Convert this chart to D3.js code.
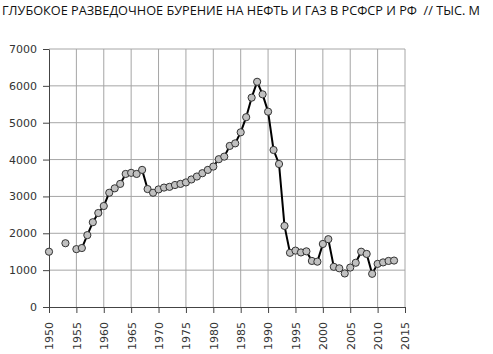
<!DOCTYPE html>
<html>
<head>
<meta charset="utf-8">
<script src="https://cdn.jsdelivr.net/npm/d3@7"></script>
<style>
  body { margin: 0; background: #fff; }
  svg { display: block; }
</style>
</head>
<body>
<svg width="493" height="354"></svg>
<script>
var title = "ГЛУБОКОЕ РАЗВЕДОЧНОЕ БУРЕНИЕ НА НЕФТЬ И ГАЗ В РСФСР И РФ  // ТЫС. М"

var years = [1950, 1951, 1952, 1953, 1954, 1955, 1956, 1957, 1958, 1959,
  1960, 1961, 1962, 1963, 1964, 1965, 1966, 1967, 1968, 1969,
  1970, 1971, 1972, 1973, 1974, 1975, 1976, 1977, 1978, 1979,
  1980, 1981, 1982, 1983, 1984, 1985, 1986, 1987, 1988, 1989,
  1990, 1991, 1992, 1993, 1994, 1995, 1996, 1997, 1998, 1999,
  2000, 2001, 2002, 2003, 2004, 2005, 2006, 2007, 2008, 2009,
  2010, 2011, 2012, 2013]

var drilling = [1500, null, null, 1730, null, 1570, 1600, 1950, 2300, 2550,
  2740, 3100, 3220, 3340, 3610, 3640, 3610, 3720, 3200, 3100,
  3190, 3240, 3260, 3310, 3340, 3380, 3460, 3540, 3630, 3720,
  3810, 4010, 4080, 4370, 4440, 4740, 5150, 5680, 6110, 5770,
  5300, 4260, 3880, 2200, 1470, 1530, 1480, 1510, 1250, 1230,
  1710, 1840, 1090, 1050, 910, 1070, 1200, 1500, 1440, 900,
  1170, 1210, 1250, 1260]

var xTicks = [1950, 1955, 1960, 1965, 1970, 1975, 1980, 1985, 1990, 1995, 2000, 2005, 2010, 2015]
var yTicks = [0, 1000, 2000, 3000, 4000, 5000, 6000, 7000]

var data = years.map((y, i) => ({year: y, value: drilling[i]}))

var x = d3.scaleLinear().domain([1950, 2015]).range([49, 405])
var y = d3.scaleLinear().domain([0, 7000]).range([307, 49])

var svg = d3.select("svg")

svg.append("text")
  .attr("x", 2)
  .attr("y", 15)
  .attr("textLength", 478)
  .attr("lengthAdjust", "spacingAndGlyphs")
  .style("white-space", "pre")
  .style("font-family", "'Open Sans', sans-serif")
  .style("font-size", "12.5px")
  .style("fill", "#111")
  .text(title)

// grid
svg.append("g").selectAll("line.v")
  .data(xTicks.slice(1))
  .enter().append("line")
  .attr("x1", d => x(d)).attr("x2", d => x(d))
  .attr("y1", y(7000)).attr("y2", y(0))
  .style("stroke", "#a6a6a6").style("stroke-width", 1)

svg.append("g").selectAll("line.h")
  .data(yTicks.slice(1))
  .enter().append("line")
  .attr("x1", x(1950)).attr("x2", x(2015))
  .attr("y1", d => y(d)).attr("y2", d => y(d))
  .style("stroke", "#a6a6a6").style("stroke-width", 1)

// axes
var yAxis = svg.append("g")
  .attr("transform", "translate(" + x(1950) + ",0)")
  .call(d3.axisLeft(y).tickValues(yTicks).tickFormat(d3.format("d")).tickSize(6).tickPadding(6).tickSizeOuter(0))
yAxis.selectAll("text")
  .style("font-family", "'DejaVu Sans', sans-serif")
  .style("font-size", "11px")
  .style("fill", "#333")

var xAxis = svg.append("g")
  .attr("transform", "translate(0," + y(0) + ")")
  .call(d3.axisBottom(x).tickValues(xTicks).tickFormat(d3.format("d")).tickSize(6).tickSizeOuter(0))
xAxis.selectAll("text")
  .attr("transform", "rotate(-90)")
  .attr("x", -15)
  .attr("y", 0)
  .attr("dy", "0.35em")
  .style("text-anchor", "end")
  .style("font-family", "'DejaVu Sans', sans-serif")
  .style("font-size", "11px")
  .style("fill", "#333")

svg.selectAll(".domain, .tick line").style("stroke", "#444")

// series
var line = d3.line()
  .defined(d => d.value != null && d.year >= 1955)
  .x(d => x(d.year))
  .y(d => y(d.value))

svg.append("path")
  .datum(data)
  .attr("d", line)
  .style("fill", "none")
  .style("stroke", "#000")
  .style("stroke-width", 2)
  .style("stroke-linejoin", "round")

svg.append("g").selectAll("circle")
  .data(data.filter(d => d.value != null))
  .enter().append("circle")
  .attr("cx", d => x(d.year))
  .attr("cy", d => y(d.value))
  .attr("r", 3.6)
  .style("fill", "#c0c0c0")
  .style("stroke", "#333")
  .style("stroke-width", 1)
</script>
</body>
</html>
